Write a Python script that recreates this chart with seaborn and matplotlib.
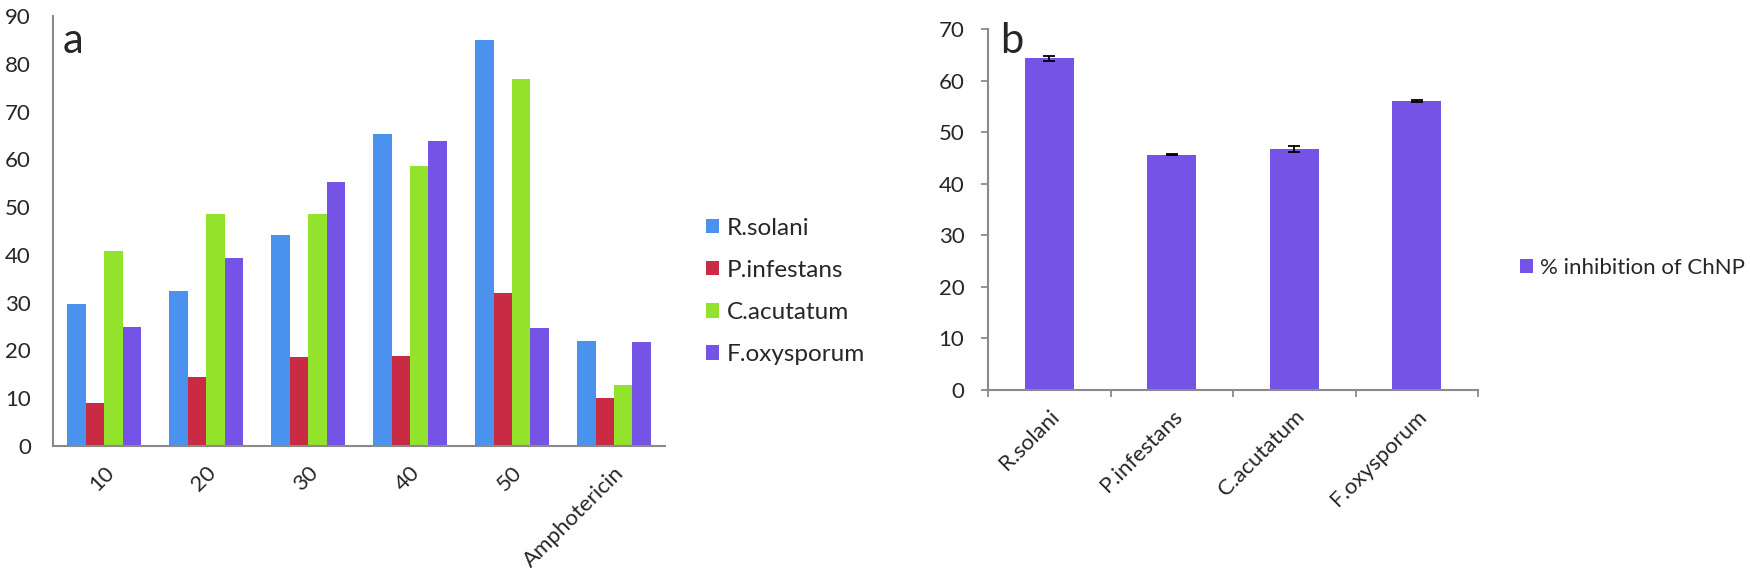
import pandas as pd
import matplotlib.pyplot as plt
import seaborn as sns

# panel a data
groups = ['10', '20', '30', '40', '50', 'Amphotericin']
species = ['R.solani', 'P.infestans', 'C.acutatum', 'F.oxysporum']
r_solani = [29.8, 32.5, 44.1, 65.3, 84.9, 21.9]
p_infestans = [9.1, 14.4, 18.6, 18.9, 32.1, 10.0]
c_acutatum = [40.8, 48.6, 48.6, 58.5, 76.8, 12.7]
f_oxysporum = [25.0, 39.4, 55.2, 63.9, 24.6, 21.8]

# panel b data
inhibition = [64.3, 45.6, 46.7, 56.0]
inhibition_err = [0.5, 0.1, 0.6, 0.15]

colors = ['#4b92ee', '#c92a44', '#93e22c', '#7553e6']
spine_col = '#8a8a8a'
fs = 16

sns.set_style('white')
plt.rcParams['font.family'] = ['Lato', 'DejaVu Sans']

df_a = pd.DataFrame({
    'group': groups * 4,
    'species': sum([[s] * len(groups) for s in species], []),
    'value': r_solani + p_infestans + c_acutatum + f_oxysporum,
})
df_b = pd.DataFrame({'species': species, 'value': inhibition})

fig = plt.figure(figsize=(17.5, 5.79), dpi=100)
ax_a = fig.add_axes([0.0303, 0.2297, 0.3497, 0.7427])
ax_b = fig.add_axes([0.5646, 0.3264, 0.28, 0.6235])

# panel a
sns.barplot(data=df_a, x='group', y='value', hue='species', palette=colors,
            width=0.725, saturation=1, linewidth=0, ax=ax_a)
ax_a.set_ylim(0, 90)
ax_a.set_yticks(range(0, 91, 10))
ax_a.set_xlim(-0.5, 5.5)
ax_a.set_xlabel('')
ax_a.set_ylabel('')
ax_a.tick_params(axis='y', length=0, labelsize=fs, pad=16)
ax_a.tick_params(axis='x', length=0, labelsize=fs, pad=12)
plt.setp(ax_a.get_xticklabels(), rotation=45, ha='right', rotation_mode='anchor')
for s in ['top', 'right']:
    ax_a.spines[s].set_visible(False)
for s in ['left', 'bottom']:
    ax_a.spines[s].set_color(spine_col)
    ax_a.spines[s].set_linewidth(1.5)
fig.text(0.036, 0.908, 'a', fontsize=30, va='baseline')
ax_a.legend_.remove()
h, l = ax_a.get_legend_handles_labels()
fig.legend(h, l, loc='center left', bbox_to_anchor=(0.4034, 0.497), frameon=False,
           fontsize=17.5, handlelength=0.55, handleheight=0.55, handletextpad=0.3,
           labelspacing=0.87, borderpad=0, borderaxespad=0)

# panel b
sns.barplot(data=df_b, x='species', y='value', color=colors[3], width=0.4,
            saturation=1, linewidth=0, ax=ax_b, label='% inhibition of ChNP')
ax_b.errorbar(range(len(species)), inhibition, yerr=inhibition_err, fmt='none',
              ecolor='black', elinewidth=1.3, capsize=4, capthick=1.3)
ax_b.set_ylim(0, 70)
ax_b.set_yticks(range(0, 71, 10))
ax_b.set_xlim(-0.5, 3.5)
ax_b.set_xlabel('')
ax_b.set_ylabel('')
ax_b.set_xticks([i - 0.5 for i in range(len(species) + 1)], minor=True)
ax_b.tick_params(axis='x', which='major', length=0, labelsize=fs, pad=12)
ax_b.tick_params(axis='x', which='minor', length=5, color=spine_col, width=1.3,
                 direction='out', bottom=True)
ax_b.tick_params(axis='y', length=5, color=spine_col, width=1.3, direction='out',
                 left=True, labelsize=fs, pad=12)
plt.setp(ax_b.get_xticklabels(), rotation=45, ha='right', rotation_mode='anchor')
for s in ['top', 'right']:
    ax_b.spines[s].set_visible(False)
for s in ['left', 'bottom']:
    ax_b.spines[s].set_color(spine_col)
    ax_b.spines[s].set_linewidth(1.5)
fig.text(0.5714, 0.908, 'b', fontsize=30, va='baseline')
hb, lb = ax_b.get_legend_handles_labels()
if ax_b.legend_ is not None:
    ax_b.legend_.remove()
fig.legend(hb, lb, loc='center left', bbox_to_anchor=(0.8686, 0.537), frameon=False,
           fontsize=16, handlelength=0.6, handleheight=0.6, handletextpad=0.3,
           borderpad=0, borderaxespad=0)

fig.savefig('out.png', dpi=100)
